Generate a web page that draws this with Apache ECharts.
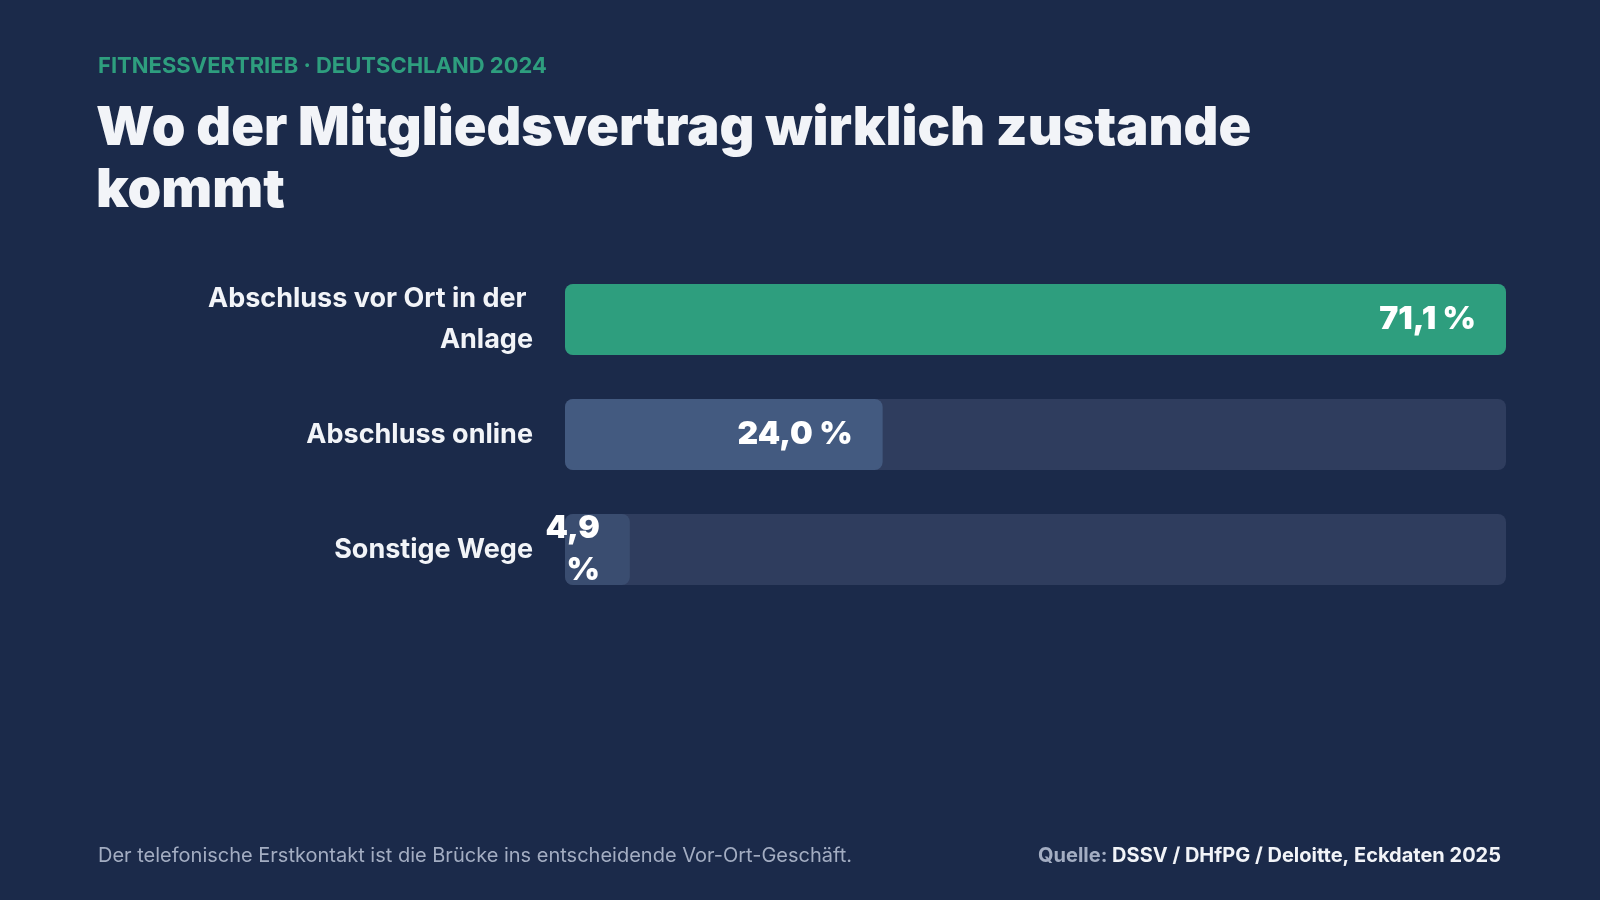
<!DOCTYPE html>
<html>
<head>
<meta charset="utf-8">
<script src="https://cdn.jsdelivr.net/npm/echarts@6/dist/echarts.min.js"></script>
<style>
  html, body { margin: 0; padding: 0; background: #1b2a4a; }
  #chart { width: 1600px; height: 900px; }
</style>
</head>
<body>
<div id="chart"></div>
<script>
// Daten
var categories = ['Abschluss vor Ort in der Anlage', 'Abschluss online', 'Sonstige Wege'];
var values = [71.1, 24.0, 4.9];
var barColors = ['#2e9e7e', '#435a80', '#3a4d70'];

var font = 'Inter, "Noto Sans", sans-serif';
var myChart = echarts.init(document.getElementById('chart'));

var option = {
    backgroundColor: '#1b2a4a',
    title: [
        {
            text: 'FITNESSVERTRIEB · DEUTSCHLAND 2024',
            left: 93, top: 50,
            textStyle: { fontFamily: font, fontSize: 22, fontWeight: 'bold', color: '#2e9e7e', letterSpacing: 4 }
        },
        {
            text: 'Wo der Mitgliedsvertrag wirklich zustande\nkommt',
            left: 91, top: 93,
            textStyle: { fontFamily: font, fontSize: 54, fontWeight: 900, color: '#f2f4f8', lineHeight: 62, letterSpacing: -1 }
        },
        {
            text: 'Der telefonische Erstkontakt ist die Brücke ins entscheidende Vor-Ort-Geschäft.',
            left: 93, top: 841,
            textStyle: { fontFamily: font, fontSize: 20, fontWeight: 'normal', color: '#a3adc2' }
        },
        {
            text: '{a|Quelle: }{b|DSSV / DHfPG / Deloitte, Eckdaten 2025}',
            right: 94, top: 841,
            textStyle: {
                rich: {
                    a: { fontFamily: font, fontSize: 20, color: '#a3adc2' },
                    b: { fontFamily: font, fontSize: 20, fontWeight: 'bold', color: '#f2f4f8' }
                }
            }
        }
    ],
    grid: { left: 565, right: 94, top: 262, height: 345 },
    xAxis: {
        type: 'value', min: 0, max: 71.1,
        show: false
    },
    yAxis: {
        type: 'category',
        inverse: true,
        data: categories,
        axisLine: { show: false },
        axisTick: { show: false },
        axisLabel: {
            margin: 32,
            width: 340,
            overflow: 'break',
            align: 'right',
            fontFamily: font,
            fontSize: 27,
            fontWeight: 'bold',
            lineHeight: 41,
            color: '#f2f4f8'
        }
    },
    series: [{
        type: 'bar',
        barWidth: 71,
        data: values.map(function (v, i) {
            return { value: v, itemStyle: { color: barColors[i], borderRadius: 8 } };
        }),
        showBackground: true,
        backgroundStyle: { color: '#2f3d5e', borderRadius: 8 },
        label: {
            show: true,
            position: 'insideRight',
            distance: 30,
            fontFamily: font,
            fontSize: 32,
            fontWeight: 900,
            color: '#ffffff',
            lineHeight: 42,
            formatter: function (p) {
                var s = p.value.toFixed(1).replace('.', ',');
                return p.value < 10 ? s + '\n%' : s + ' %';
            }
        }
    }]
};
myChart.setOption(option);
</script>
</body>
</html>
